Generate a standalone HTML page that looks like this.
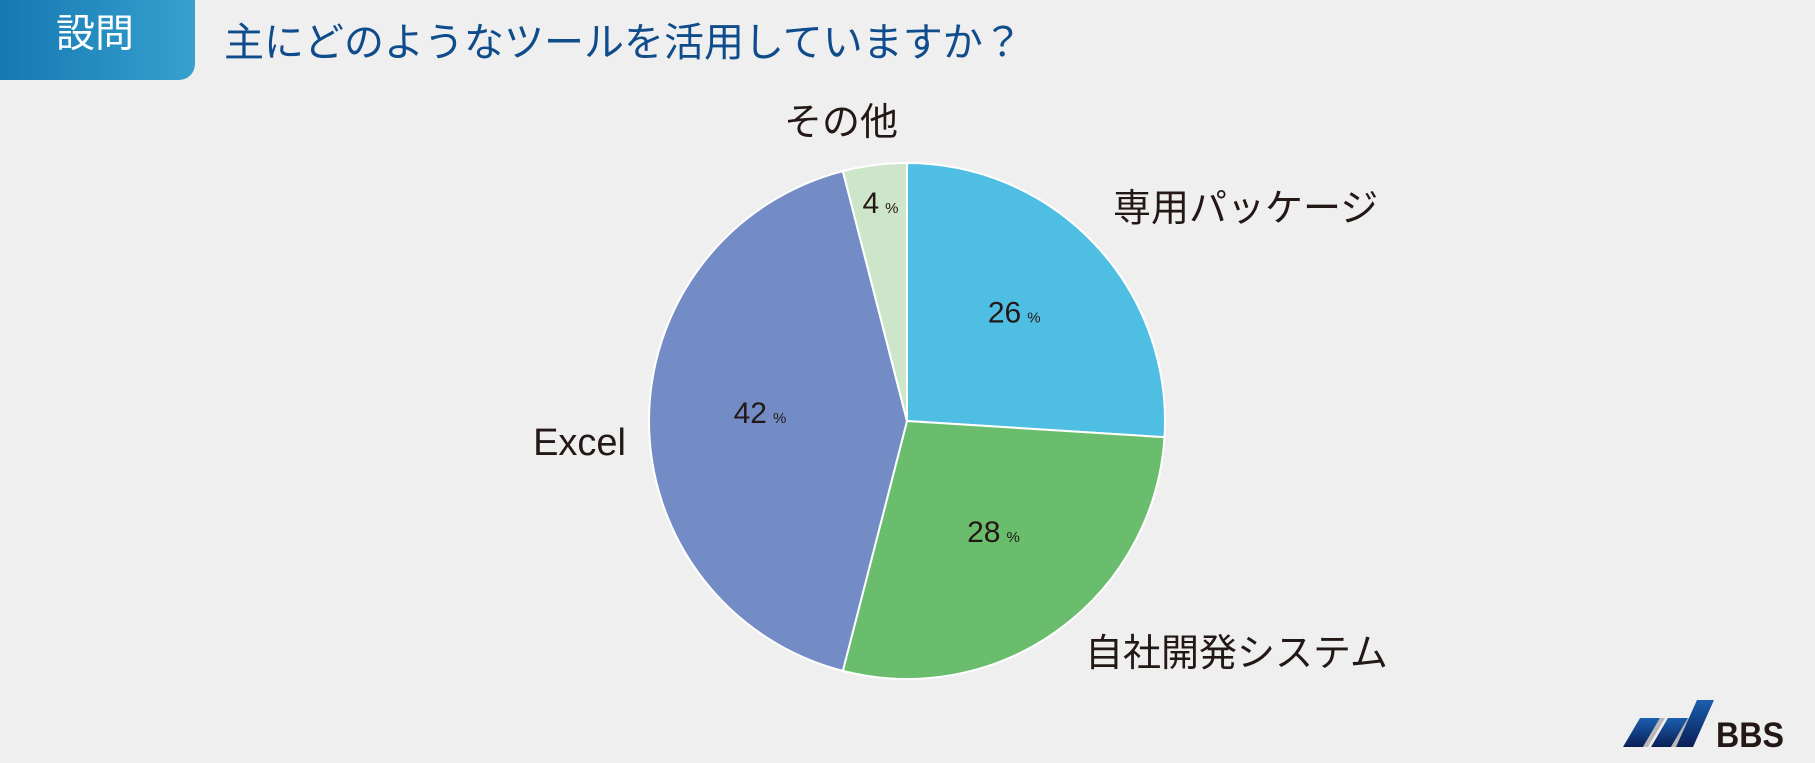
<!DOCTYPE html>
<html><head><meta charset="utf-8">
<style>
html,body{margin:0;padding:0;}
body{width:1815px;height:763px;background:#efefef;position:relative;overflow:hidden;font-family:"Liberation Sans","Noto Sans CJK JP",sans-serif;}
.hdr{position:absolute;left:0;top:0;width:195px;height:80px;background:linear-gradient(90deg,#1479b2,#38a0cf);border-bottom-right-radius:16px;}
.hdr span{position:absolute;left:56px;top:13px;color:#fff;font-size:39px;line-height:44px;}
.title{position:absolute;left:224px;top:18px;color:#0f4c8c;font-size:40px;line-height:50px;letter-spacing:0px;white-space:nowrap;}
svg{position:absolute;left:0;top:0;}
</style></head><body>
<div class="hdr"><span>設問</span></div>
<div class="title">主にどのようなツールを活用していますか？</div>
<svg id="chart" width="1815" height="763"></svg>
<svg width="1815" height="763">
<defs><linearGradient id="lg" x1="0" y1="0" x2="0" y2="1"><stop offset="0" stop-color="#1b5fb0"/><stop offset="1" stop-color="#0a1e55"/></linearGradient></defs>
<polygon points="1640,718 1660,718 1643,747 1623,747" fill="url(#lg)"/>
<polygon points="1660,718 1665,718 1648,747 1643,747" fill="#b8b8b8"/>
<polygon points="1668,718 1688,718 1671,747 1651,747" fill="url(#lg)"/>
<polygon points="1688,718 1693,718 1676,747 1671,747" fill="#b8b8b8"/>
<polygon points="1697,700 1714,700 1693,747 1676,747" fill="url(#lg)"/>
<text x="1716" y="747" font-family="Liberation Sans, sans-serif" font-weight="bold" font-size="35" textLength="68" lengthAdjust="spacingAndGlyphs" fill="#231815">BBS</text>
</svg>
<script>
const categories=["専用パッケージ","自社開発システム","Excel","その他"];
const values=[26,28,42,4];
const colors=["#4fbee3","#6bbd6e","#738cc6","#cde5c8"];
const cx=907,cy=421,r=258;
const labelPos=[[1113,208,"start"],[1085,653,"start"],[626,442,"end"],[841,122,"middle"]];
const ns="http://www.w3.org/2000/svg";
const svg=document.getElementById('chart');
const total=values.reduce((a,b)=>a+b,0);
function pt(a,rr){return [cx+rr*Math.sin(a),cy-rr*Math.cos(a)];}
let acc=0;
values.forEach((v,i)=>{
  const a0=acc/total*2*Math.PI; acc+=v; const a1=acc/total*2*Math.PI;
  const p0=pt(a0,r),p1=pt(a1,r);
  const large=(a1-a0)>Math.PI?1:0;
  const path=document.createElementNS(ns,'path');
  path.setAttribute('d',`M${cx},${cy}L${p0[0]},${p0[1]}A${r},${r} 0 ${large} 1 ${p1[0]},${p1[1]}Z`);
  path.setAttribute('fill',colors[i]);path.setAttribute('stroke','#fff');path.setAttribute('stroke-width','2');
  
  
  svg.appendChild(path);
  const am=(a0+a1)/2;
  const rr=v<10?0.82*r:0.57*r;
  const lp=pt(am,rr);
  const t=document.createElementNS(ns,'text');
  t.setAttribute('x',lp[0]);t.setAttribute('y',lp[1]+2);t.setAttribute('text-anchor','middle');
  t.setAttribute('font-size','30');t.setAttribute('fill','#231815');
  t.setAttribute('font-family','Liberation Sans, sans-serif');
  
  
  t.innerHTML=v+'<tspan font-size="15" dx="6">%</tspan>';
  svg.appendChild(t);
  const c=document.createElementNS(ns,'text');
  const L=labelPos[i];
  c.setAttribute('x',L[0]);c.setAttribute('y',L[1]+13);c.setAttribute('text-anchor',L[2]);
  c.setAttribute('font-size','38');c.setAttribute('fill','#231815');
  c.setAttribute('font-family','Liberation Sans, Noto Sans CJK JP, sans-serif');
  
  
  c.textContent=categories[i];
  svg.appendChild(c);
});
</script>
</body></html>
